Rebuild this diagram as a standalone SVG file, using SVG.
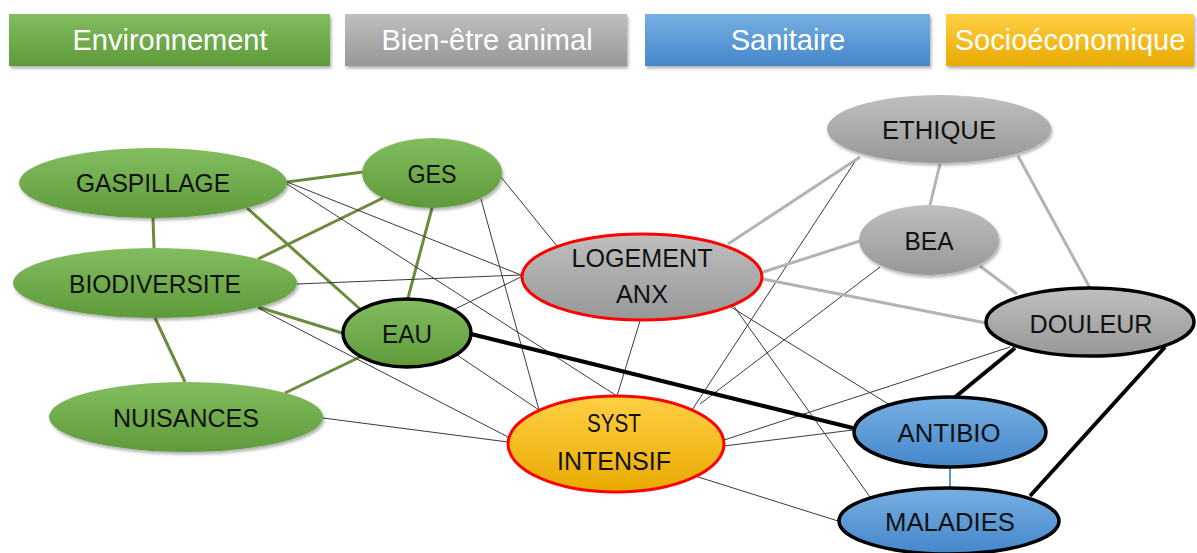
<svg xmlns="http://www.w3.org/2000/svg" width="1197" height="553" viewBox="0 0 1197 553">
<defs>
<linearGradient id="gGreen" x1="0" y1="0" x2="0" y2="1"><stop offset="0" stop-color="#82bd5f"/><stop offset="1" stop-color="#5e9a3a"/></linearGradient>
<linearGradient id="gGrey" x1="0" y1="0" x2="0" y2="1"><stop offset="0" stop-color="#bfbfbf"/><stop offset="1" stop-color="#979797"/></linearGradient>
<linearGradient id="gBlue" x1="0" y1="0" x2="0" y2="1"><stop offset="0" stop-color="#77afe2"/><stop offset="1" stop-color="#4587cb"/></linearGradient>
<linearGradient id="gYellow" x1="0" y1="0" x2="0" y2="1"><stop offset="0" stop-color="#ffcf45"/><stop offset="1" stop-color="#e8aa00"/></linearGradient>
<filter id="sh" x="-10%" y="-20%" width="125%" height="150%"><feDropShadow dx="1.5" dy="2.5" stdDeviation="1.8" flood-color="#000" flood-opacity="0.3"/></filter>
<style>
.leg{font-family:"Liberation Sans",Arial,sans-serif;font-size:29px;fill:#fff;text-anchor:middle}
.lbl{font-family:"Liberation Sans",Arial,sans-serif;font-size:26px;fill:#111;text-anchor:middle}
.green{stroke:#6b8c3b;stroke-width:3;fill:none}
.thin{stroke:#3a3a3a;stroke-width:1;fill:none}
.grey{stroke:#b3b3b3;stroke-width:3;fill:none}
.heavy{stroke:#000;stroke-width:4;fill:none}
.blue{stroke:#5b9bd5;stroke-width:2;fill:none}
.nG{fill:url(#gGreen)}
.nGr{fill:url(#gGrey)}
.nB{fill:url(#gBlue)}
.nY{fill:url(#gYellow)}
.bk{stroke:#000;stroke-width:3.5}
.rd{stroke:#ff0000;stroke-width:3}
</style>
</defs>
<rect width="1197" height="553" fill="#fff"/>

<g id="legend">
<g id="leg-env"><rect x="9" y="14" width="321" height="52" fill="url(#gGreen)" filter="url(#sh)"/><text class="leg" x="170" y="50">Environnement</text></g>
<g id="leg-bea"><rect x="345" y="14" width="282" height="52" fill="url(#gGrey)" filter="url(#sh)"/><text class="leg" x="487" y="50">Bien-être animal</text></g>
<g id="leg-san"><rect x="645" y="14" width="285" height="52" fill="url(#gBlue)" filter="url(#sh)"/><text class="leg" x="788" y="50">Sanitaire</text></g>
<g id="leg-soc"><rect x="946" y="14" width="248" height="52" fill="url(#gYellow)" filter="url(#sh)"/><text class="leg" x="1070" y="50">Socioéconomique</text></g>
</g>

<g id="connectors">
<line class="green" x1="287" y1="182" x2="363" y2="172"/>
<line class="green" x1="153" y1="218" x2="154" y2="248"/>
<line class="green" x1="247" y1="208" x2="360" y2="309"/>
<line class="green" x1="258" y1="259" x2="383" y2="198"/>
<line class="green" x1="432" y1="208" x2="408" y2="298"/>
<line class="green" x1="258" y1="307" x2="342" y2="333"/>
<line class="green" x1="155" y1="318" x2="185" y2="382"/>
<line class="green" x1="285" y1="393" x2="360" y2="357"/>

<line class="thin" x1="287" y1="182" x2="521" y2="275"/>
<line class="thin" x1="287" y1="184" x2="617" y2="396"/>
<line class="thin" x1="501" y1="177" x2="557" y2="246"/>
<line class="thin" x1="481" y1="199" x2="539" y2="410"/>
<line class="thin" x1="297" y1="284" x2="521" y2="275"/>
<line class="thin" x1="258" y1="308" x2="510" y2="438"/>
<line class="thin" x1="455" y1="309" x2="521" y2="277"/>
<line class="thin" x1="457" y1="355" x2="539" y2="410"/>
<line class="thin" x1="323" y1="418" x2="508" y2="442"/>
<line class="thin" x1="640" y1="321" x2="617" y2="396"/>
<line class="thin" x1="731" y1="307" x2="890" y2="405"/>
<line class="thin" x1="733" y1="305" x2="870" y2="497"/>
<line class="thin" x1="858" y1="157" x2="692" y2="410"/>
<line class="thin" x1="880" y1="267" x2="700" y2="404"/>
<line class="thin" x1="1010" y1="347" x2="724" y2="440"/>
<line class="thin" x1="724" y1="446" x2="853" y2="430"/>
<line class="thin" x1="695" y1="476" x2="838" y2="521"/>

<line class="grey" x1="728" y1="244" x2="860" y2="157"/>
<line class="grey" x1="763" y1="272" x2="860" y2="241"/>
<line class="grey" x1="763" y1="279" x2="986" y2="323"/>
<line class="grey" x1="940" y1="164" x2="930" y2="205"/>
<line class="grey" x1="1018" y1="156" x2="1090" y2="288"/>
<line class="grey" x1="980" y1="266" x2="1017" y2="294"/>

<line class="heavy" x1="471" y1="334" x2="853" y2="428"/>
<line class="heavy" x1="1015" y1="348" x2="954" y2="398"/>
<line class="heavy" x1="1165" y1="347" x2="1030" y2="496"/>
<line class="blue" x1="950" y1="467" x2="950" y2="488"/>
</g>

<g id="n-gaspillage"><ellipse class="nG" cx="153" cy="183" rx="134" ry="35" filter="url(#sh)"/><text class="lbl" x="153" y="192" textLength="154" lengthAdjust="spacingAndGlyphs">GASPILLAGE</text></g>
<g id="n-ges"><ellipse class="nG" cx="432" cy="173" rx="70" ry="35" filter="url(#sh)"/><text class="lbl" x="432" y="183" textLength="49" lengthAdjust="spacingAndGlyphs">GES</text></g>
<g id="n-biodiversite"><ellipse class="nG" cx="155" cy="283" rx="142" ry="35" filter="url(#sh)"/><text class="lbl" x="155" y="293" textLength="172" lengthAdjust="spacingAndGlyphs">BIODIVERSITE</text></g>
<g id="n-eau"><ellipse class="nG bk" cx="407" cy="333" rx="64" ry="34"/><text class="lbl" x="407" y="343" textLength="50" lengthAdjust="spacingAndGlyphs">EAU</text></g>
<g id="n-nuisances"><ellipse class="nG" cx="186" cy="417" rx="137" ry="35" filter="url(#sh)"/><text class="lbl" x="186" y="427" textLength="146" lengthAdjust="spacingAndGlyphs">NUISANCES</text></g>

<g id="n-logement"><ellipse class="nGr rd" cx="642" cy="277" rx="120" ry="43"/><text class="lbl" x="642" y="267" textLength="141" lengthAdjust="spacingAndGlyphs">LOGEMENT</text><text class="lbl" x="642" y="303" textLength="52" lengthAdjust="spacingAndGlyphs">ANX</text></g>
<g id="n-syst"><ellipse class="nY rd" cx="616" cy="444" rx="108" ry="48"/><text class="lbl" x="614" y="432" textLength="54" lengthAdjust="spacingAndGlyphs">SYST</text><text class="lbl" x="614" y="470" textLength="114" lengthAdjust="spacingAndGlyphs">INTENSIF</text></g>

<g id="n-ethique"><ellipse class="nGr" cx="939" cy="129" rx="112" ry="34" filter="url(#sh)"/><text class="lbl" x="939" y="139" textLength="114" lengthAdjust="spacingAndGlyphs">ETHIQUE</text></g>
<g id="n-bea"><ellipse class="nGr" cx="929" cy="240" rx="70" ry="35" filter="url(#sh)"/><text class="lbl" x="929" y="250" textLength="49" lengthAdjust="spacingAndGlyphs">BEA</text></g>
<g id="n-douleur"><ellipse class="nGr bk" cx="1090" cy="322" rx="104" ry="34"/><text class="lbl" x="1091" y="333" textLength="123" lengthAdjust="spacingAndGlyphs">DOULEUR</text></g>

<g id="n-antibio"><ellipse class="nB bk" cx="950" cy="432" rx="96" ry="35"/><text class="lbl" x="949" y="442" textLength="103" lengthAdjust="spacingAndGlyphs">ANTIBIO</text></g>
<g id="n-maladies"><ellipse class="nB bk" cx="949" cy="521" rx="110" ry="33"/><text class="lbl" x="950" y="531" textLength="130" lengthAdjust="spacingAndGlyphs">MALADIES</text></g>
</svg>
